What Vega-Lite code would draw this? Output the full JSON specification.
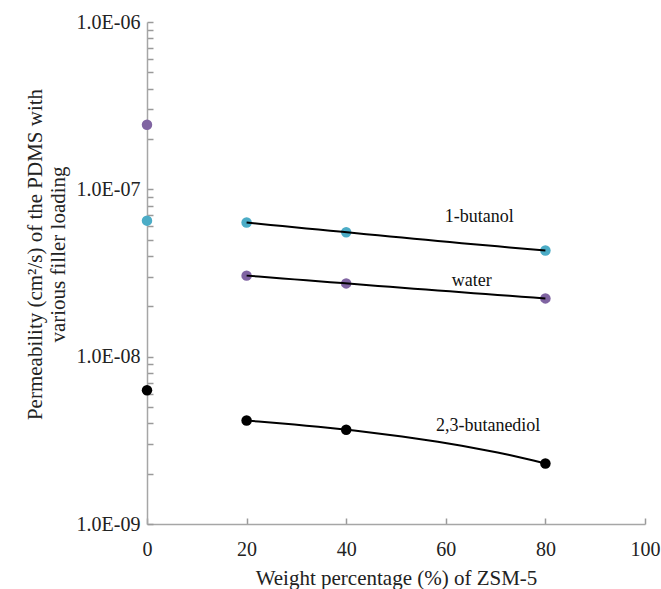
{
  "$schema": "https://vega.github.io/schema/vega-lite/v6.json",
  "width": 498,
  "height": 502,
  "autosize": {"type": "none"},
  "padding": {"left": 147, "top": 22, "right": 16, "bottom": 65},
  "background": "white",
  "config": {"view": {"stroke": null}, "font": "Liberation Serif"},
  "datasets": {
    "perm": [
      {"solute": "1-butanol", "loading": 0, "permeability": 6.5e-8},
      {"solute": "1-butanol", "loading": 20, "permeability": 6.33e-8},
      {"solute": "1-butanol", "loading": 40, "permeability": 5.54e-8},
      {"solute": "1-butanol", "loading": 80, "permeability": 4.31e-8},
      {"solute": "water", "loading": 0, "permeability": 2.43e-7},
      {"solute": "water", "loading": 20, "permeability": 3.05e-8},
      {"solute": "water", "loading": 40, "permeability": 2.74e-8},
      {"solute": "water", "loading": 80, "permeability": 2.23e-8},
      {"solute": "2,3-butanediol", "loading": 0, "permeability": 6.3e-9},
      {"solute": "2,3-butanediol", "loading": 20, "permeability": 4.15e-9},
      {"solute": "2,3-butanediol", "loading": 40, "permeability": 3.66e-9},
      {"solute": "2,3-butanediol", "loading": 80, "permeability": 2.3e-9}
    ],
    "labels": [
      {"name": "1-butanol", "loading": 66.7, "permeability": 6.86e-8},
      {"name": "water", "loading": 65.2, "permeability": 2.85e-8},
      {"name": "2,3-butanediol", "loading": 68.5, "permeability": 3.85e-9}
    ]
  },
  "layer": [
    {
      "data": {"name": "perm"},
      "mark": {"type": "circle", "size": 110, "opacity": 1},
      "encoding": {
        "x": {
          "field": "loading",
          "type": "quantitative",
          "scale": {"domain": [0, 100], "nice": false, "zero": false},
          "axis": {
            "values": [0, 20, 40, 60, 80, 100],
            "grid": false,
            "ticks": true,
            "tickSize": -6,
            "tickWidth": 1.5,
            "tickColor": "#9a9a9a",
            "labelPadding": 21,
            "labelFlush": false,
            "labelOverlap": false,
            "domainColor": "#a6a6a6",
            "domainWidth": 1.5,
            "labelFont": "Liberation Serif",
            "labelFontSize": 20,
            "labelColor": "#222222",
            "title": "Weight percentage (%) of ZSM-5",
            "titleFont": "Liberation Serif",
            "titleFontSize": 21,
            "titleFontWeight": "normal",
            "titleColor": "#222222",
            "titlePadding": 8
          }
        },
        "y": {
          "field": "permeability",
          "type": "quantitative",
          "scale": {"type": "log", "domain": [1e-9, 1e-6], "nice": false},
          "axis": {
            "values": [1e-9, 2e-9, 3e-9, 4e-9, 5e-9, 6e-9, 7e-9, 8e-9, 9e-9, 1e-8, 2e-8, 3e-8, 4e-8, 5e-8, 6e-8, 7e-8, 8e-8, 9e-8, 1e-7, 2e-7, 3e-7, 4e-7, 5e-7, 6e-7, 7e-7, 8e-7, 9e-7, 1e-6],
            "labelExpr": "abs(log(datum.value) / LN10 - round(log(datum.value) / LN10)) < 0.01 ? '1.0E-0' + (-round(log(datum.value) / LN10)) : ''",
            "grid": false,
            "ticks": true,
            "tickSize": -6,
            "tickWidth": 1.5,
            "tickColor": "#9a9a9a",
            "labelPadding": 13,
            "labelFlush": false,
            "labelOverlap": false,
            "domainColor": "#a6a6a6",
            "domainWidth": 1.5,
            "labelFont": "Liberation Serif",
            "labelFontSize": 20,
            "labelColor": "#222222",
            "title": ["Permeability (cm²/s) of the PDMS with", "various  filler loading"],
            "titleFont": "Liberation Serif",
            "titleFontSize": 21,
            "titleFontWeight": "normal",
            "titleColor": "#222222",
            "titleX": -112,
            "titleY": 232,
            "titleBaseline": "middle",
            "titleLineHeight": 23
          }
        },
        "color": {
          "field": "solute",
          "type": "nominal",
          "scale": {"domain": ["1-butanol", "water", "2,3-butanediol"], "range": ["#4bacc6", "#8064a2", "#000000"]},
          "legend": null
        }
      }
    },
    {
      "data": {"name": "perm"},
      "transform": [
        {"filter": "datum.loading >= 20"},
        {"regression": "permeability", "on": "loading", "groupby": ["solute"], "method": "poly", "order": 2, "extent": [20, 80]}
      ],
      "mark": {"type": "line", "color": "#000000", "strokeWidth": 2},
      "encoding": {
        "x": {"field": "loading", "type": "quantitative"},
        "y": {"field": "permeability", "type": "quantitative"},
        "detail": {"field": "solute", "type": "nominal"}
      }
    },
    {
      "data": {"name": "labels"},
      "mark": {"type": "text", "font": "Liberation Serif", "fontSize": 18, "color": "#111111", "baseline": "middle", "align": "center"},
      "encoding": {
        "x": {"field": "loading", "type": "quantitative"},
        "y": {"field": "permeability", "type": "quantitative"},
        "text": {"field": "name", "type": "nominal"}
      }
    }
  ]
}
